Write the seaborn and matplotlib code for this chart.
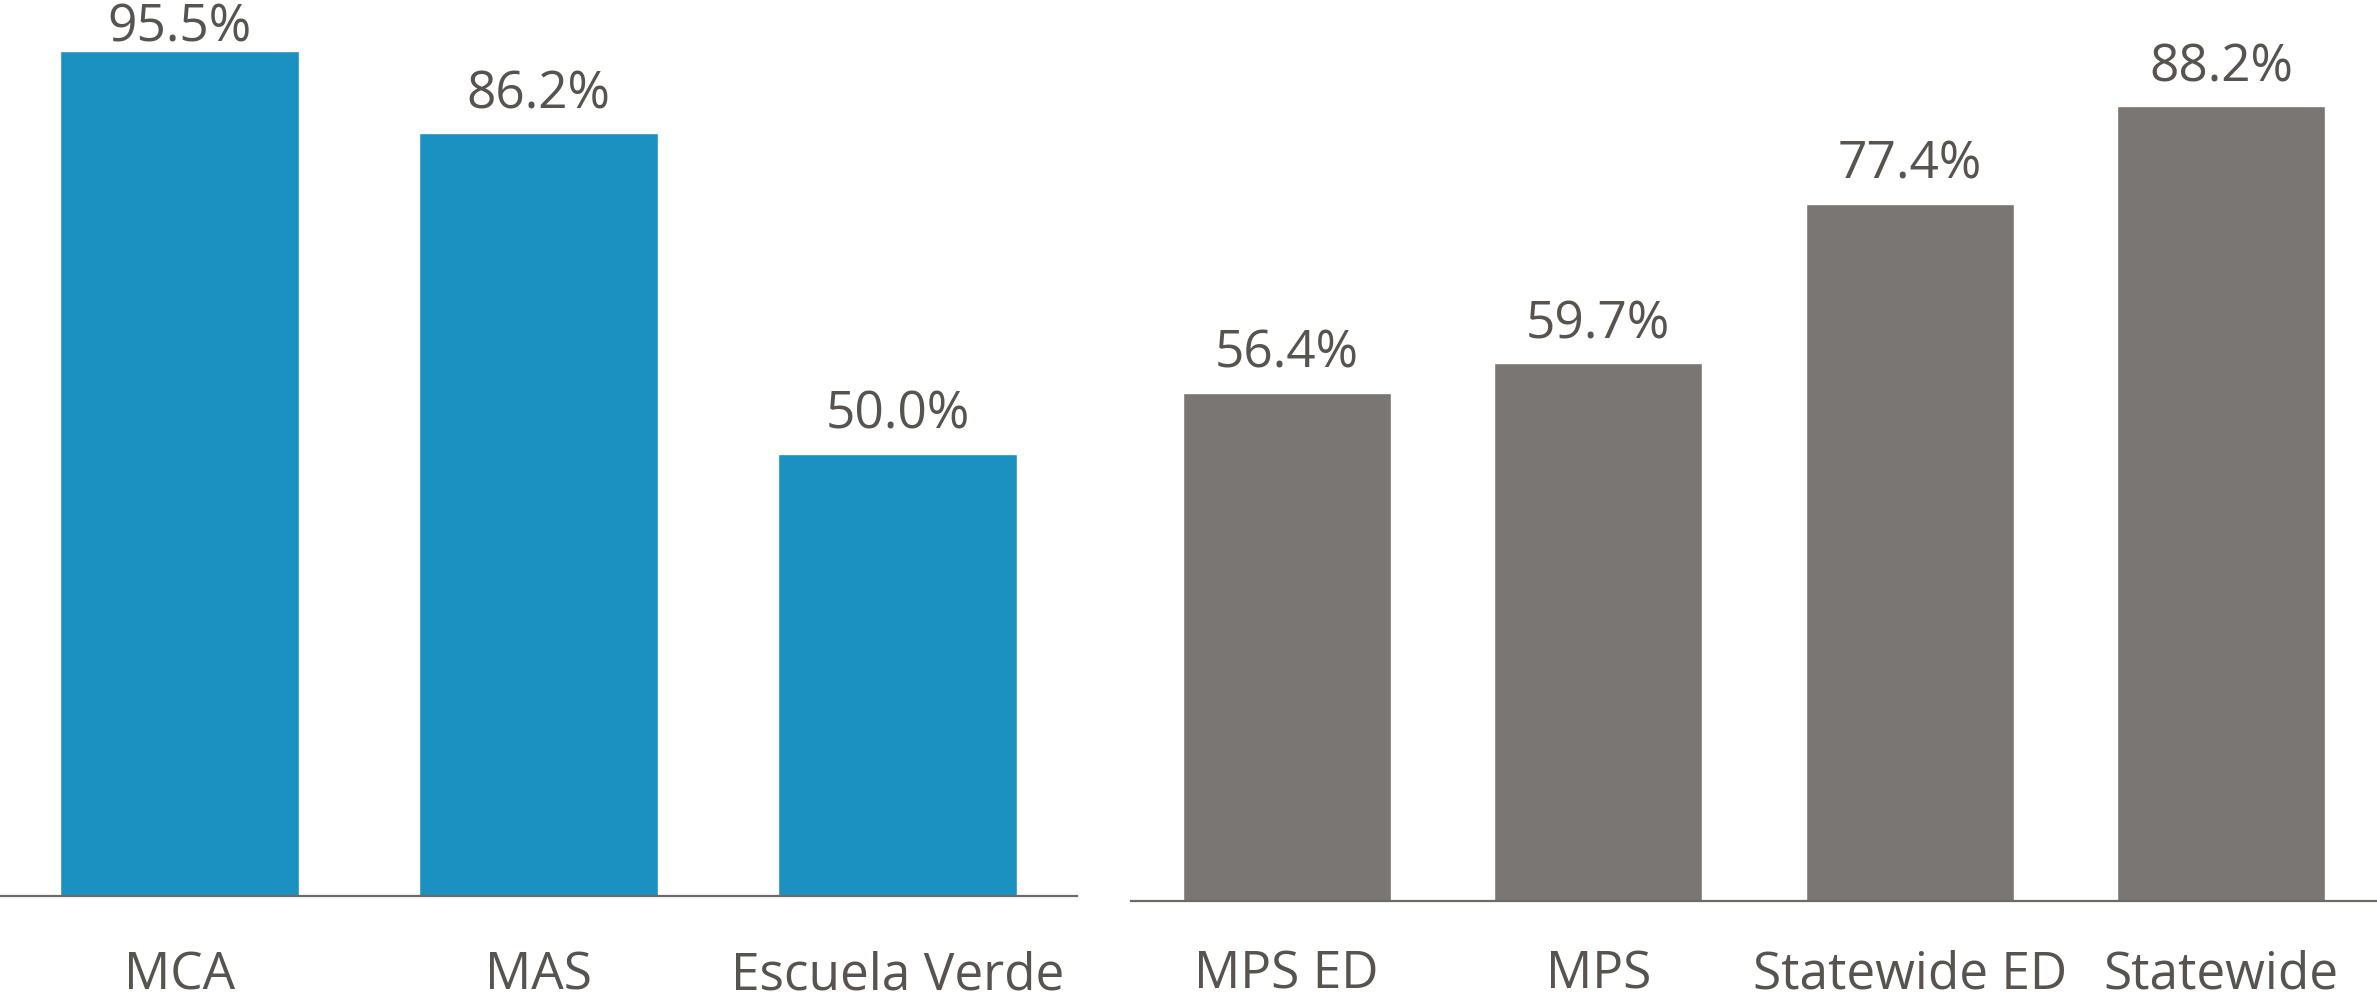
import matplotlib
matplotlib.use("Agg")
import matplotlib.pyplot as plt
import seaborn as sns
import pandas as pd

# Data
left_categories = ["MCA", "MAS", "Escuela Verde"]
left_values = [95.5, 86.2, 50.0]
right_categories = ["MPS ED", "MPS", "Statewide ED", "Statewide"]
right_values = [56.4, 59.7, 77.4, 88.2]

BLUE = "#1A91C1"
GRAY = "#7A7673"
TEXT = "#57534F"
AXIS = "#6E6A67"

sns.set_theme(style="white")
plt.rcParams["font.family"] = ["Open Sans", "DejaVu Sans"]

W, H = 2377, 1000
fig = plt.figure(figsize=(W / 100, H / 100), dpi=100)

ax_l = fig.add_axes([0 / W, (H - 896) / H, 1077 / W, 885 / H])
ax_r = fig.add_axes([1131 / W, (H - 901) / H, 1246 / W, 901 / H])

FS = 37

def draw(ax, cats, vals, color, gap, cap, pad):
    df = pd.DataFrame({"cat": cats, "val": vals})
    sns.barplot(data=df, x="cat", y="val", color=color, width=0.667,
                saturation=1, ax=ax, errorbar=None)
    ax.set_xlim(-0.5, len(cats) - 0.5)
    ax.set_ylim(0, 100)
    for i, v in enumerate(vals):
        ax.text(i, min(v + gap, cap), f"{v:.1f}%", ha="center", va="baseline",
                fontsize=FS, color=TEXT, clip_on=False)
    for s in ["top", "right", "left"]:
        ax.spines[s].set_visible(False)
    ax.spines["bottom"].set_color(AXIS)
    ax.spines["bottom"].set_linewidth(1.6)
    ax.set_yticks([])
    ax.set_xlabel("")
    ax.set_ylabel("")
    ax.tick_params(axis="x", length=0, pad=pad, labelsize=FS, labelcolor=TEXT)
    ax.patch.set_alpha(0)

draw(ax_l, left_categories, left_values, BLUE, 25 / 8.85, 854 / 8.85, 39)
draw(ax_r, right_categories, right_values, GRAY, 25 / 9.01, 96, 35)

fig.savefig("out.png", dpi=100)
